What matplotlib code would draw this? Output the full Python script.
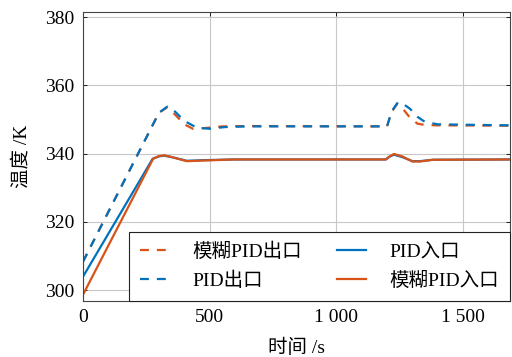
import matplotlib
matplotlib.use("Agg")
import matplotlib.pyplot as plt
from matplotlib.ticker import FuncFormatter

plt.rcParams['font.family'] = ['Liberation Serif', 'Noto Sans CJK SC']
plt.rcParams['axes.unicode_minus'] = False

# outlet temperature, PID
t_pid_out = [0, 300, 333, 360, 400, 450, 500, 560, 650, 1200, 1218, 1243, 1265, 1290, 1320, 1350, 1400, 1690]
T_pid_out = [308.3, 352.0, 353.8, 352.6, 349.6, 347.6, 347.3, 347.8, 348.0, 348.0, 352.4, 355.1, 354.5, 353.2, 350.8, 349.3, 348.6, 348.3]

# outlet temperature, fuzzy PID
t_fuzzy_out = [0, 300, 333, 363, 400, 434, 480, 550, 650, 1200, 1218, 1240, 1262, 1290, 1320, 1350, 1400, 1690]
T_fuzzy_out = [308.3, 352.0, 353.6, 351.5, 348.6, 347.3, 347.5, 348.0, 348.1, 348.0, 352.2, 354.6, 353.2, 350.6, 348.8, 348.4, 348.3, 348.2]

# inlet temperature, PID
t_pid_in = [0, 275, 300, 320, 350, 410, 480, 600, 1195, 1210, 1227, 1260, 1300, 1330, 1380, 1690]
T_pid_in = [303.9, 338.5, 339.2, 339.4, 339.0, 337.9, 338.1, 338.3, 338.3, 339.1, 339.7, 339.0, 337.8, 337.8, 338.2, 338.3]

# inlet temperature, fuzzy PID
t_fuzzy_in = [0, 277, 300, 322, 350, 410, 480, 600, 1195, 1210, 1227, 1260, 1300, 1330, 1380, 1690]
T_fuzzy_in = [298.6, 338.5, 339.3, 339.5, 339.0, 337.8, 338.0, 338.3, 338.3, 339.2, 339.9, 339.2, 337.7, 337.7, 338.2, 338.3]

blue = '#0072BD'
orange = '#D95319'

fig = plt.figure(figsize=(5.12, 3.57), dpi=100)
ax = fig.add_axes([0.162, 0.157, 0.834, 0.808])

dash = (0, (4.0, 3.6))
l1, = ax.plot(t_fuzzy_out, T_fuzzy_out, color=orange, lw=1.6, ls=dash, label='模糊PID出口')
l2, = ax.plot(t_pid_out, T_pid_out, color=blue, lw=1.6, ls=dash, label='PID出口')
l3, = ax.plot(t_pid_in, T_pid_in, color=blue, lw=1.6, label='PID入口')
l4, = ax.plot(t_fuzzy_in, T_fuzzy_in, color=orange, lw=1.6, label='模糊PID入口')

ax.set_xlim(0, 1685)
ax.set_ylim(296.8, 381.4)
ax.set_xticks([0, 500, 1000, 1500])
ax.set_yticks([300, 320, 340, 360, 380])
ax.xaxis.set_major_formatter(FuncFormatter(lambda v, p: f'{int(v):,}'.replace(',', ' ')))
ax.tick_params(direction='in', labelsize=14, top=True, right=True, length=3, width=0.6, pad=6)
ax.grid(True, color='#c8c8c8', lw=0.8)
for s in ax.spines.values():
    s.set_linewidth(0.8)
    s.set_color('#444444')

ax.set_xlabel('时间 /s', fontsize=14, labelpad=9)
ax.set_ylabel('温度 /K', fontsize=14, labelpad=11)

leg = ax.legend(handles=[l1, l2, l3, l4], ncol=2, loc='lower right', fontsize=14,
                frameon=True, fancybox=False, borderaxespad=0, framealpha=1,
                edgecolor='#222222', handlelength=1.5, columnspacing=1.8,
                labelspacing=0.55, handletextpad=1.2, borderpad=0.55)
leg.get_frame().set_linewidth(0.8)

fig.savefig('out.png', dpi=100)
